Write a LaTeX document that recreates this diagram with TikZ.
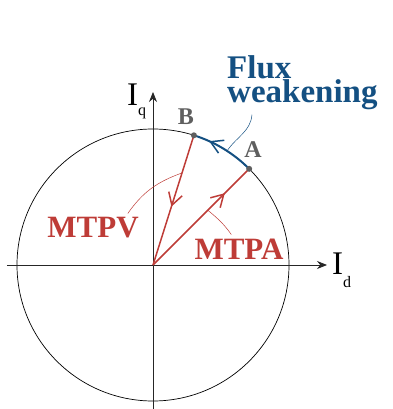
\documentclass[tikz,border=0pt]{standalone}
\usepackage{fontspec}
\setmainfont{Liberation Serif}
\usepackage{tikz}
\usetikzlibrary{
  arrows.meta,
  calc,
  decorations.markings,
}

\definecolor{mtpred}{RGB}{190,60,55}
\definecolor{fwblue}{RGB}{20,80,130}
\definecolor{ptgray}{RGB}{95,95,95}

\begin{document}
\begin{tikzpicture}[
  x=1pt, y=1pt,
  axis/.style={draw=black!85, line width=0.9pt, -{Stealth[length=10pt,width=8pt]}},
  vecline/.style={mtpred, line width=1.5pt},
  fluxline/.style={fwblue, line width=2pt},
  midarrow/.style={postaction={decorate, decoration={markings,
      mark=at position #1 with {\arrow{Straight Barb[length=12pt,width=14pt,line width=1.5pt]}}}}},
  leader/.style={line width=0.5pt},
  dot/.style={circle, fill=ptgray, inner sep=0pt, minimum size=6pt},
  ptlabel/.style={text=ptgray, inner sep=1pt, font=\bfseries\fontsize{24}{24}\selectfont},
  mtplabel/.style={text=mtpred, inner sep=1pt, font=\bfseries\fontsize{31}{31}\selectfont},
  curlabel/.style={inner sep=0pt, anchor=base west, font=\fontsize{33}{33}\selectfont},
]
  % Scale: 1pt = 1px, origin at the axes crossing
  \useasboundingbox (-153,-144) rectangle (239,265);

  \coordinate (O) at (0,0);
  \coordinate (A) at (45:136);
  \coordinate (B) at (72.5:136);

  % Current limit circle
  \draw[line width=0.7pt] (O) circle[radius=136];

  % Axes
  \draw[axis] (-146,0) -- (174,0);
  \draw[axis] (0,-144) -- (0,173);

  % Trajectories
  \draw[vecline, midarrow=0.75] (O) -- (A);
  \draw[vecline, midarrow=0.55] (B) -- (O);
  \draw[fluxline, midarrow=0.75] (A) arc[start angle=45, end angle=72.5, radius=136];

  \node[dot] (pA) at (A) {};
  \node[dot] (pB) at (B) {};

  % Labels
  \node[ptlabel] (labA) at (100,115) {A};
  \node[ptlabel] (labB) at (33,148) {B};
  \node[mtplabel] (mtpv) at (-60,37) {MTPV};
  \node[mtplabel] (mtpa) at (86,16) {MTPA};
  \node[text=fwblue, inner sep=0pt, anchor=north west, align=left,
        font=\bfseries\fontsize{33}{24}\selectfont] (flux) at (74,210) {Flux\\weakening};

  \node[curlabel] (Id) at (179,-10) {I\raisebox{-13pt}{\fontsize{16}{16}\selectfont d}};
  \node[curlabel] (Iq) at (-26,159) {I\raisebox{-10pt}{\fontsize{16}{16}\selectfont q}};

  % Leader lines
  \coordinate (pvfoot) at ($(B)!0.29!(O)$);
  \coordinate (pafoot) at ($(O)!0.57!(A)$);
  \coordinate (fwfoot) at (57:137);
  \coordinate (pvtip) at ([xshift=-12pt,yshift=3pt]mtpv.north east);
  \coordinate (patip) at ([xshift=38pt,yshift=3pt]mtpa.north west);
  \coordinate (fwtip) at ([xshift=25pt,yshift=-5pt]flux.south west);

  \draw[leader, mtpred] (pvtip) to[out=55, in=200] (pvfoot);
  \draw[leader, mtpred] (pafoot) to[out=-40, in=125] (patip);
  \draw[leader, fwblue] (fwtip) to[out=-95, in=55] (fwfoot);

\end{tikzpicture}
\end{document}
